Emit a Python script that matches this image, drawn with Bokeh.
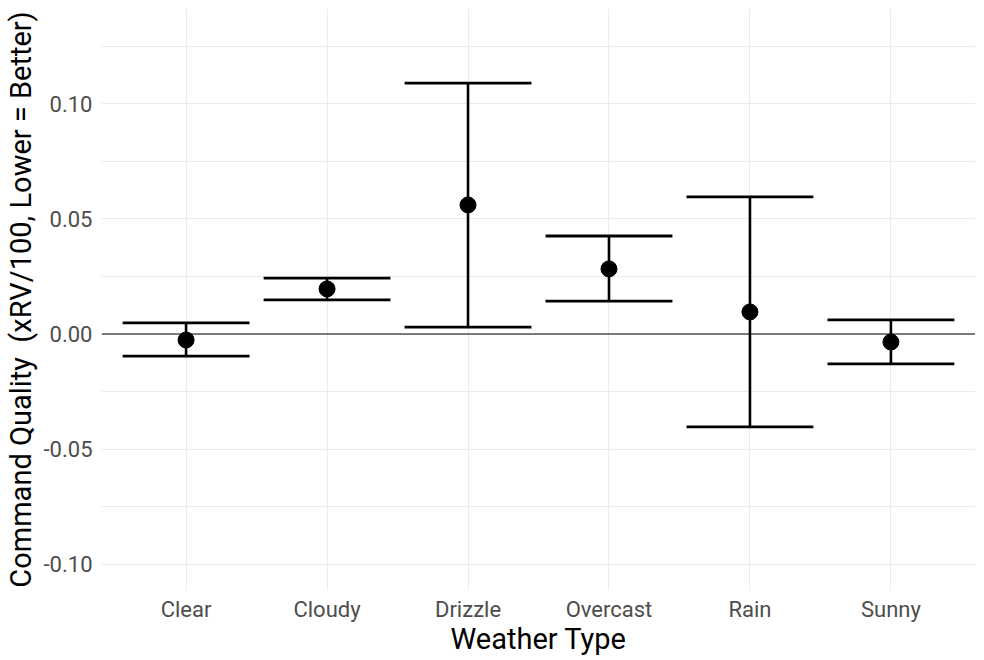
from bokeh.plotting import figure
from bokeh.models import Range1d, FixedTicker, PrintfTickFormatter, ColumnDataSource, Span
from bokeh.transform import dodge
from bokeh.embed import file_html
from bokeh.resources import INLINE

weather = ["Clear", "Cloudy", "Drizzle", "Overcast", "Rain", "Sunny"]
estimate = [-0.0026, 0.0196, 0.0561, 0.0283, 0.0096, -0.0035]
lower = [-0.0096, 0.0148, 0.0030, 0.0143, -0.0404, -0.0130]
upper = [0.0048, 0.0243, 0.1091, 0.0426, 0.0596, 0.0061]
y_ticks = [-0.10, -0.05, 0.00, 0.05, 0.10]
y_minor = [-0.075, -0.025, 0.025, 0.075, 0.125]
y_limits = [-0.10, 0.13]

pos = list(range(1, len(weather) + 1))
src = ColumnDataSource(dict(x=pos, est=estimate, lo=lower, hi=upper))

span = y_limits[1] - y_limits[0]
p = figure(frame_width=874, frame_height=582,
           x_range=Range1d(0.4, len(weather) + 0.6),
           y_range=Range1d(y_limits[0] - 0.05 * span, y_limits[1] + 0.05 * span),
           output_backend="svg", toolbar_location=None,
           min_border_top=8, min_border_right=0, min_border_left=90, min_border_bottom=0,
           background_fill_color="white", border_fill_color="white")
p.outline_line_color = None

yt = FixedTicker(ticks=y_ticks, minor_ticks=y_minor)
xt = FixedTicker(ticks=pos, minor_ticks=[])
p.yaxis.ticker = yt
p.ygrid.ticker = yt
p.xaxis.ticker = xt
p.xgrid.ticker = xt
p.yaxis.formatter = PrintfTickFormatter(format="%.2f")
p.xaxis.major_label_overrides = {i: w for i, w in zip(pos, weather)}

for ax in (p.xaxis[0], p.yaxis[0]):
    ax.axis_line_color = None
    ax.major_tick_line_color = None
    ax.minor_tick_line_color = None
    ax.major_label_text_font = "Roboto"
    ax.major_label_text_font_size = "22px"
    ax.major_label_text_color = "#4D4D4D"
    ax.axis_label_text_font = "Roboto"
    ax.axis_label_text_font_size = "29px"
    ax.axis_label_text_font_style = "normal"
    ax.axis_label_text_color = "black"

p.yaxis.major_label_standoff = 3
p.yaxis.axis_label_standoff = 3
p.xaxis.major_label_standoff = 0
p.xaxis.axis_label_standoff = -3
p.xaxis.axis_label = "Weather Type"
p.yaxis.axis_label = "Command Quality \u00a0(xRV/100, Lower = Better)"

p.xgrid.grid_line_color = "#EBEBEB"
p.ygrid.grid_line_color = "#EBEBEB"
p.ygrid.minor_grid_line_color = "#EBEBEB"
p.xgrid.grid_line_width = 1
p.ygrid.grid_line_width = 1

p.add_layout(Span(location=0, dimension="width", line_color="black", line_width=1))

p.segment(x0="x", y0="lo", x1="x", y1="hi", source=src, line_color="black", line_width=2.6)
p.segment(x0=dodge("x", -0.45), y0="lo", x1=dodge("x", 0.45), y1="lo", source=src,
          line_color="black", line_width=2.8)
p.segment(x0=dodge("x", -0.45), y0="hi", x1=dodge("x", 0.45), y1="hi", source=src,
          line_color="black", line_width=2.8)
p.scatter(x="x", y="est", source=src, size=16, color="black")

open("out.html", "w").write(file_html(p, INLINE))
